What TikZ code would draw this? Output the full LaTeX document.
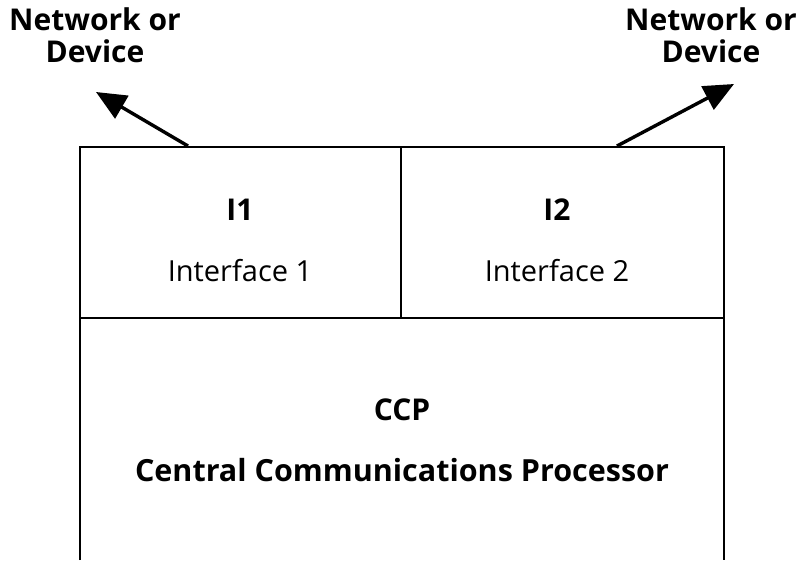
\documentclass[tikz,border=0pt]{standalone}
\usepackage{fontspec}
\setmainfont{Open Sans}
\usetikzlibrary{arrows.meta}

\tikzset{
  lbl/.style={font=\fontsize{29}{32}\selectfont, inner sep=0pt},
  head/.style={font=\fontsize{30}{32}\selectfont\bfseries, inner sep=0pt},
  link/.style={line width=3.4pt, -{Triangle[length=30pt,width=26pt]}},
}

\begin{document}
\begin{tikzpicture}[x=1pt, y=-1pt, line width=2.8pt]
  \useasboundingbox (0,0) rectangle (799,560);

  % outer frame, open at the bottom
  \draw (80,560) -- (80,147) -- (724,147) -- (724,560);
  \draw (80,318) -- (724,318);
  \draw (401,147) -- (401,318);

  % texts
  \node[head] (i1)  at (240,210) {I1};
  \node[lbl]  (if1) at (240,271) {Interface 1};
  \node[head] (i2)  at (557,210) {I2};
  \node[lbl]  (if2) at (557,271) {Interface 2};
  \node[head] (ccp) at (402,410) {CCP};
  \node[head, font=\fontsize{30.5}{32}\selectfont\bfseries] (ccpname) at (402,470) {Central Communications Processor};

  \node[head, align=center] (netl) at (95,35) {Network or\\Device};
  \node[head, align=center] (netr) at (711,35) {Network or\\Device};

  % links out of the interfaces
  \coordinate (pl) at (188,146);
  \coordinate (tl) at (96,92);
  \coordinate (pr) at (617,146);
  \coordinate (tr) at (734,84);
  %\fill (pl) circle (2pt);
  \draw[link] (pl) -- (tl);
  \draw[link] (pr) -- (tr);
\end{tikzpicture}
\end{document}
